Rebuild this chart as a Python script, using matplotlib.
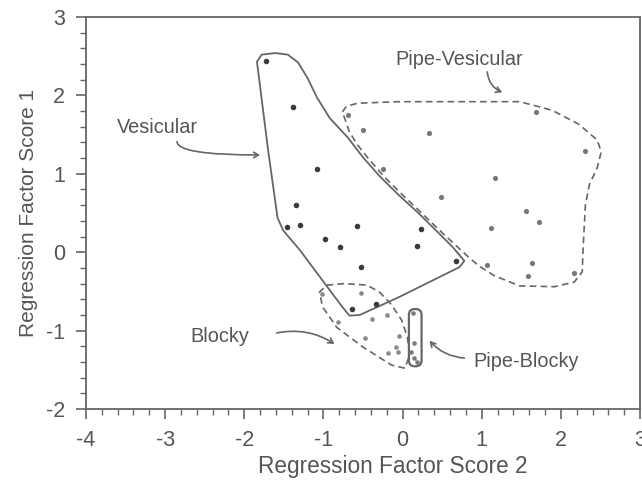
import matplotlib
matplotlib.use("Agg")
import matplotlib.pyplot as plt
from matplotlib.patches import Polygon, FancyBboxPatch
from matplotlib.ticker import MultipleLocator

plt.rcParams['font.family'] = ['Liberation Sans', 'DejaVu Sans']

# ---- data points ----
ves_x = [-1.72, -1.39, -1.08, -1.35, -1.46, -1.30, -0.98, -0.79, -0.58, -0.53, 0.23, 0.18, 0.67, -0.64, -0.34]
ves_y = [2.44, 1.85, 1.06, 0.60, 0.32, 0.35, 0.17, 0.07, 0.33, -0.19, 0.29, 0.08, -0.11, -0.72, -0.66]

pv_x = [-0.69, -0.50, 0.33, 1.68, 2.31, -0.25, 1.17, 0.49, 1.56, 1.73, 1.12, 1.07, 1.64, 1.59, 2.16]
pv_y = [1.75, 1.56, 1.52, 1.79, 1.29, 1.06, 0.95, 0.70, 0.53, 0.39, 0.31, -0.16, -0.14, -0.30, -0.26]

bl_x = [-0.53, -1.02, -0.20, -0.38, -0.82, -0.48, -0.05, -0.08, -0.18, -0.06]
bl_y = [-0.52, -0.53, -0.80, -0.85, -0.89, -1.09, -1.07, -1.21, -1.29, -1.27]

pb_x = [0.13, 0.15, 0.14, 0.11, 0.18]
pb_y = [-0.78, -1.16, -1.35, -1.27, -1.40]

# ---- group outlines (data coordinates) ----
ves_outline = [(-1.84, 2.43), (-1.78, 2.52), (-1.61, 2.54), (-1.45, 2.52), (-1.32, 2.42),
               (-1.20, 2.22), (-1.08, 1.97), (-0.92, 1.71), (-0.69, 1.46), (-0.50, 1.21),
               (-0.29, 0.97), (-0.06, 0.74), (0.21, 0.49), (0.63, 0.07), (0.78, -0.11),
               (0.72, -0.19), (0.34, -0.38), (-0.06, -0.58), (-0.54, -0.80), (-0.67, -0.81),
               (-0.76, -0.70), (-0.96, -0.43), (-1.30, 0.03), (-1.51, 0.28), (-1.58, 0.44),
               (-1.70, 1.31)]

pv_outline = [(-0.76, 1.79), (-0.71, 1.86), (-0.57, 1.90), (-0.04, 1.92), (0.72, 1.92),
              (1.48, 1.92), (1.89, 1.81), (2.23, 1.63), (2.46, 1.43), (2.51, 1.28),
              (2.46, 1.08), (2.36, 0.86), (2.31, 0.60), (2.28, 0.03), (2.27, -0.25),
              (2.17, -0.38), (1.92, -0.44), (1.48, -0.43), (1.16, -0.30), (0.97, -0.18),
              (0.82, -0.05), (0.53, 0.22), (0.25, 0.49), (0.00, 0.73), (-0.23, 0.96),
              (-0.42, 1.18), (-0.57, 1.37), (-0.67, 1.53)]

bl_outline = [(-0.96, -0.42), (-0.73, -0.40), (-0.45, -0.42), (-0.29, -0.51), (-0.14, -0.67),
              (-0.01, -0.87), (0.06, -1.08), (0.09, -1.31), (0.03, -1.48), (-0.14, -1.44),
              (-0.50, -1.21), (-0.83, -0.96), (-1.01, -0.70), (-1.05, -0.51)]

pb_center = (0.16, -1.09)
pb_size = (0.16, 0.73)

labels = ["Pipe-Vesicular", "Vesicular", "Blocky", "Pipe-Blocky"]
label_pos = [(0.71, 2.46), (-3.10, 1.59), (-2.31, -1.08), (1.56, -1.40)]
arrow_start = [(1.07, 2.30), (-2.85, 1.41), (-1.59, -1.03), (0.78, -1.35)]
arrow_end = [(1.26, 2.04), (-1.80, 1.24), (-0.86, -1.17), (0.34, -1.13)]
arrow_conn = ["arc3,rad=0.3", "angle3,angleA=-90,angleB=0", "arc3,rad=-0.2", "arc3,rad=-0.2"]

gray = "#555555"
line_gray = "#666666"

fig = plt.figure(figsize=(6.42, 4.95), dpi=100)
ax = fig.add_axes([86/642, 1 - 409/495, (640-86)/642, (409-17)/495])

ax.set_xlim(-4, 3)
ax.set_ylim(-2, 3)

ax.add_patch(Polygon(ves_outline, closed=True, fill=False, edgecolor=line_gray, lw=1.3, joinstyle='round'))
ax.add_patch(Polygon(pv_outline, closed=True, fill=False, edgecolor=line_gray, lw=1.2, ls=(0, (4, 2.5)), joinstyle='round'))
ax.add_patch(Polygon(bl_outline, closed=True, fill=False, edgecolor=line_gray, lw=1.2, ls=(0, (4, 2.5)), joinstyle='round'))
ax.add_patch(FancyBboxPatch((pb_center[0] - pb_size[0]/2, pb_center[1] - pb_size[1]/2),
                            pb_size[0], pb_size[1],
                            boxstyle="round,pad=0,rounding_size=0.075",
                            fill=False, edgecolor=line_gray, lw=1.6))

ax.scatter(ves_x, ves_y, s=16, color="#3a3a3a", zorder=3, linewidths=0)
ax.scatter(pv_x, pv_y, s=14, color="#777777", zorder=3, linewidths=0)
ax.scatter(bl_x, bl_y, s=11, color="#8a8a8a", zorder=3, linewidths=0)
ax.scatter(pb_x, pb_y, s=11, color="#7a7a7a", zorder=3, linewidths=0)

for lab, pos in zip(labels, label_pos):
    ax.text(pos[0], pos[1], lab, ha='center', va='center', fontsize=14.3, color=gray)

for s, e, c in zip(arrow_start, arrow_end, arrow_conn):
    ax.annotate("", xy=e, xytext=s,
                arrowprops=dict(arrowstyle="->,head_length=0.35,head_width=0.2",
                                color=line_gray, lw=1.2, connectionstyle=c,
                                shrinkA=0, shrinkB=0))

ax.xaxis.set_major_locator(MultipleLocator(1))
ax.xaxis.set_minor_locator(MultipleLocator(0.2))
ax.yaxis.set_major_locator(MultipleLocator(1))
ax.yaxis.set_minor_locator(MultipleLocator(0.2))
ax.tick_params(which='major', direction='out', length=7, width=1.2, color=line_gray,
               labelsize=15.5, labelcolor=gray, pad=8)
ax.tick_params(which='minor', direction='out', length=4, width=1, color=line_gray)
ax.tick_params(top=False, right=False)
for sp in ax.spines.values():
    sp.set_color(line_gray)
    sp.set_linewidth(1.3)

ax.set_xticks([-4, -3, -2, -1, 0, 1, 2, 3])
ax.set_xticklabels(["-4", "-3", "-2", "-1", "0", "1", "2", "3"])
ax.set_yticks([-2, -1, 0, 1, 2, 3])
ax.set_yticklabels(["-2", "-1", "0", "1", "2", "3"])

ax.set_xlabel("Regression Factor Score 2", fontsize=16.3, color=gray)
ax.xaxis.set_label_coords((393 - 86) / 554, -(455 - 409) / 392)
ax.set_ylabel("Regression Factor Score 1", fontsize=15, color=gray, labelpad=6)

fig.savefig("out.png", dpi=100)
